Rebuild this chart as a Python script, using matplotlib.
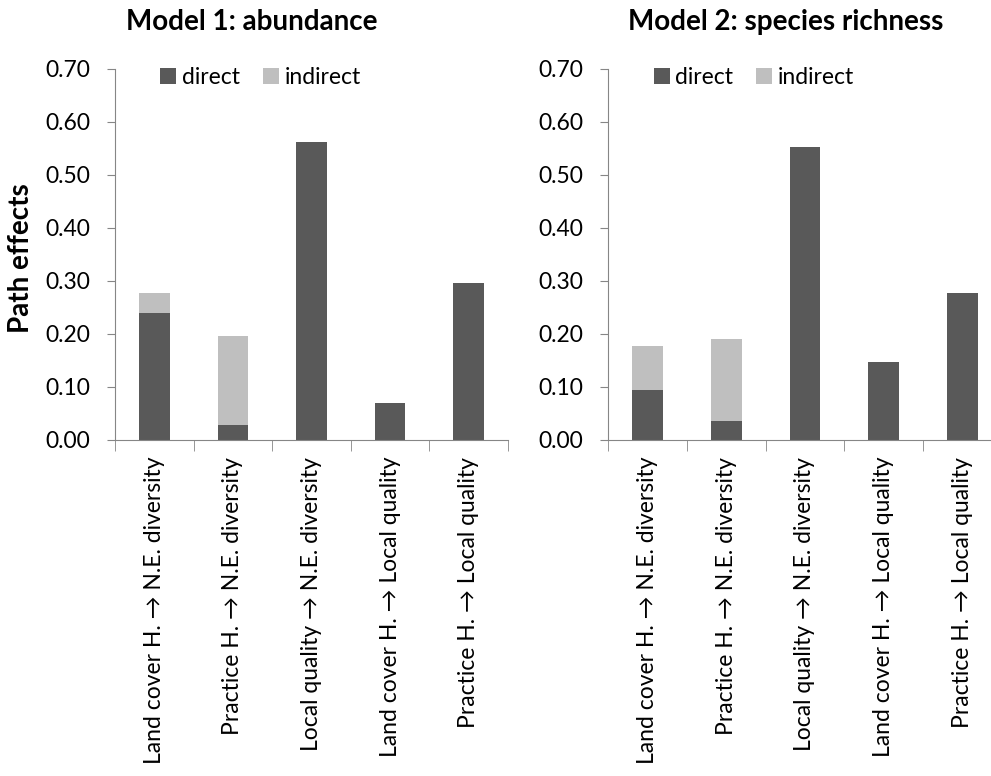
import numpy as np
import matplotlib
matplotlib.use("Agg")
import matplotlib.pyplot as plt

plt.rcParams['font.family'] = ['Lato', 'DejaVu Sans']

paths = ["Land cover H. \u2192 N.E. diversity",
         "Practice H. \u2192 N.E. diversity",
         "Local quality \u2192 N.E. diversity",
         "Land cover H. \u2192 Local quality",
         "Practice H. \u2192 Local quality"]

titles = ["Model 1: abundance", "Model 2: species richness"]

# path effects
abund_direct = [0.240, 0.028, 0.562, 0.070, 0.296]
abund_indirect = [0.037, 0.168, 0.0, 0.0, 0.0]
rich_direct = [0.094, 0.036, 0.553, 0.147, 0.277]
rich_indirect = [0.084, 0.154, 0.0, 0.0, 0.0]

yticks = [0.0, 0.1, 0.2, 0.3, 0.4, 0.5, 0.6, 0.7]

DARK = '#595959'
LIGHT = '#bfbfbf'
AXCOL = '#868686'
FS = 16.5


def draw_panel(ax, direct, indirect):
    """
        Stacked direct / indirect bars for one model
    """
    x = np.arange(len(paths))
    ax.bar(x, direct, width=0.39, color=DARK, label='direct')
    ax.bar(x, indirect, width=0.39, bottom=direct, color=LIGHT,
           label='indirect')

    ax.set_xlim(-0.5, len(paths) - 0.5)
    ax.set_ylim(0, 0.70)
    ax.set_yticks(yticks)
    ax.set_yticklabels(['%.2f' % v for v in yticks], fontsize=FS)

    ax.set_xticks(x)
    ax.set_xticklabels(paths, rotation=90, fontsize=FS, va='top')
    ax.set_xticks(np.arange(len(paths) + 1) - 0.5, minor=True)
    ax.tick_params(axis='x', which='major', length=0, pad=12)
    ax.tick_params(axis='x', which='minor', length=8, color=AXCOL,
                   direction='out')
    ax.tick_params(axis='y', length=6, color=AXCOL, pad=12)

    for side in ['top', 'right']:
        ax.spines[side].set_visible(False)
    for side in ['left', 'bottom']:
        ax.spines[side].set_color(AXCOL)

    ax.legend(loc='center left', bbox_to_anchor=(0.115, 0.978), ncol=2,
              frameon=False, fontsize=FS, handlelength=0.7,
              handleheight=0.7, handletextpad=0.25, columnspacing=1.0,
              borderaxespad=0, borderpad=0)


fig = plt.figure(figsize=(9.91, 7.76), dpi=100)

ax1 = fig.add_axes([0.1160, 0.4330, 0.3966, 0.4781])
ax2 = fig.add_axes([0.6140, 0.4330, 0.3966, 0.4781])

draw_panel(ax1, abund_direct, abund_indirect)
draw_panel(ax2, rich_direct, rich_indirect)

fig.text(252 / 991, 1 - 22 / 776, titles[0], ha='center', va='center',
         fontsize=20, fontweight='bold')
fig.text(786 / 991, 1 - 22 / 776, titles[1], ha='center', va='center',
         fontsize=20, fontweight='bold')
fig.text(21 / 991, 1 - 258 / 776, 'Path effects', rotation=90,
         ha='center', va='center', fontsize=20, fontweight='bold')

fig.savefig('out.png', dpi=100)
